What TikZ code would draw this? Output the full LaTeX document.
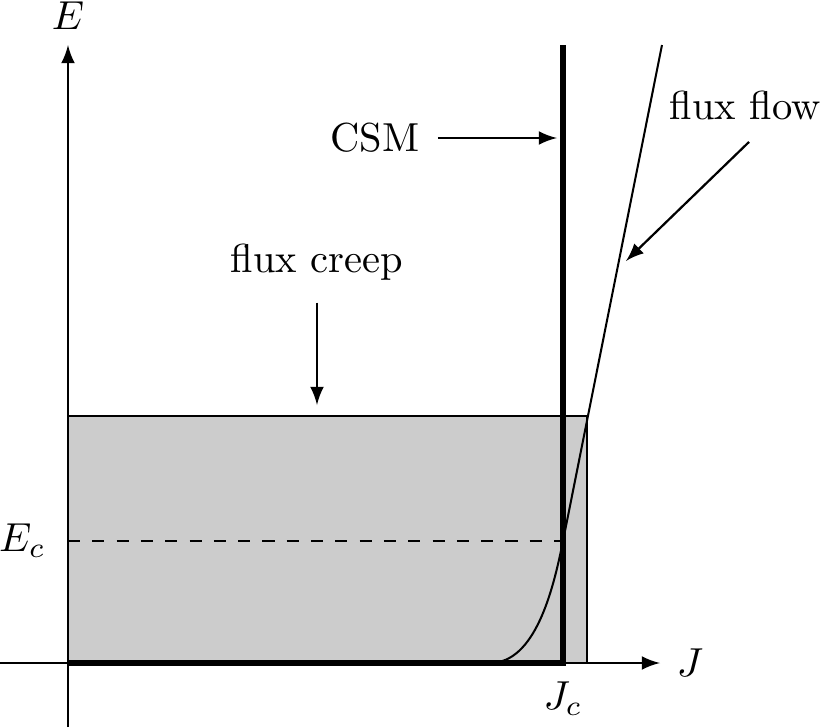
\documentclass[tikz,border=0pt]{standalone}
\usetikzlibrary{arrows}
\usetikzlibrary{positioning}
\tikzstyle{axis} = [-latex, line width=0.55pt]
\tikzstyle{pointer} = [-latex, line width=0.55pt]
\tikzstyle{heavy} = [line width=1.5pt]

\begin{document}
\begin{tikzpicture}[x=0.2469pt, y=0.2469pt]
\useasboundingbox (0,0) rectangle (829,727);

% region below E_c and J_c
\draw[fill=black!20, line width=0.5pt] (68,64) rectangle (587,311);
\coordinate (O) at (68,64);
\coordinate (Ec) at (68,186);
\coordinate (Jc) at (563,64);
\coordinate (cross) at (563,186);
\coordinate (top) at (563,682);
\coordinate (flowtop) at (662,682);
\coordinate (knee) at (490,64);

% axes
\draw[axis] (0,64) -- (660,64);
\draw[axis] (68,0) -- (68,682);
\node (Elab) at (68,711) {$E$};
\node (Jlab) at (690,64) {$J$};
\node (Eclab) [left=2pt of Ec] {$E_c$};
\node (Jclab) [below=1pt of Jc] {$J_c$};

\draw[dashed, line width=0.5pt] (Ec) -- (cross);
\draw[line width=0.5pt] (flowtop) -- (cross) .. controls (553,136) and (535,64) .. (knee);
\draw[heavy] (O) -- (Jc) -- (top);

% labels
\node (csm) at (375,589) {CSM};
\coordinate (csmtip) at (557,589);
\draw[pointer] (csm.east) ++(1pt,0) -- (csmtip);
\node (flow) at (745,622) {flux flow};
\coordinate (flowtip) at (626,466);
\draw[pointer] (flow.south) ++(1pt,-2pt) -- (flowtip);
\node (creep) at (317,465) {flux creep};
\coordinate (creeptip) at (317,322);
\draw[pointer] (creep.south) ++(0,-2pt) -- (creeptip);
\end{tikzpicture}
\end{document}
